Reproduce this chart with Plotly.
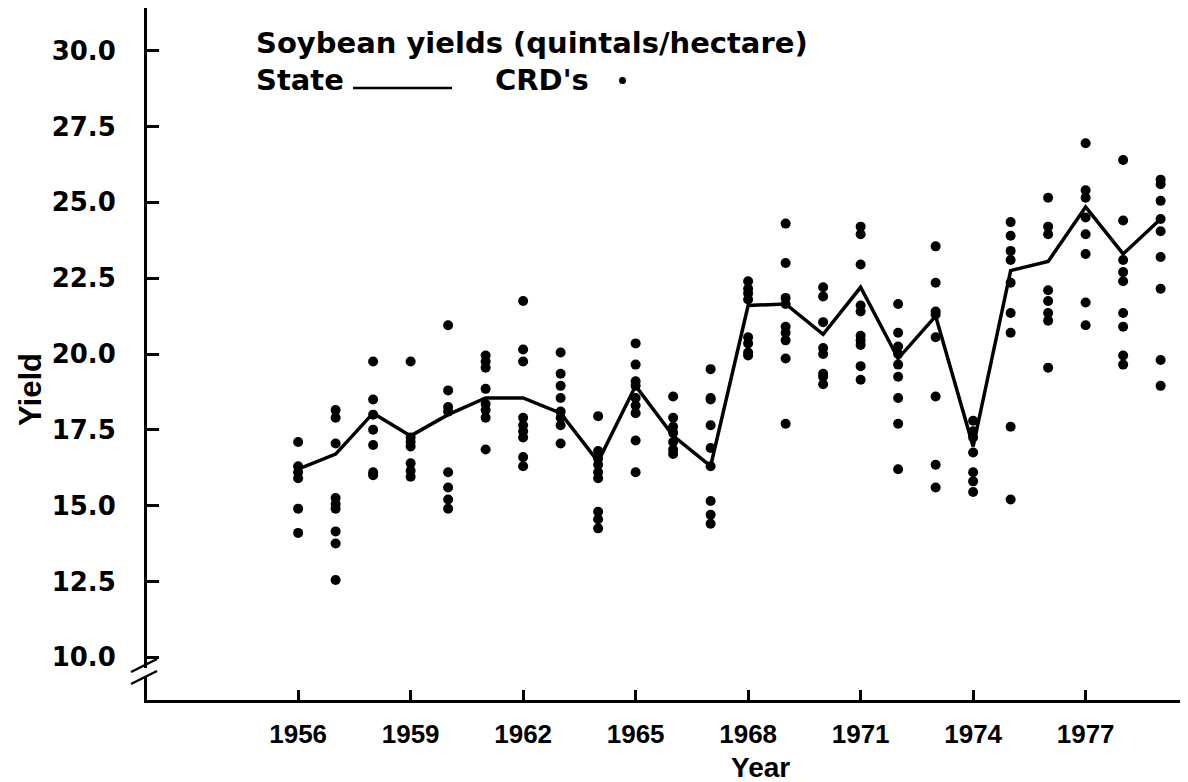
import plotly.graph_objects as go

# ---------------- data ----------------
years = list(range(1956, 1980))

state_yield = [16.2, 16.7, 18.05, 17.3, 18.0, 18.55, 18.55, 18.05, 16.45, 18.95,
               17.3, 16.3, 21.6, 21.65, 20.65, 22.2, 19.85, 21.25, 16.95, 22.75,
               23.05, 24.85, 23.3, 24.45]

crd_yields = [
    [17.1, 16.3, 16.1, 15.9, 14.9, 14.1],                               # 1956
    [18.15, 17.9, 17.05, 15.25, 15.05, 14.9, 14.15, 13.75, 12.55],     # 1957
    [19.75, 18.5, 18.0, 17.5, 17.0, 16.1, 16.0],                        # 1958
    [19.75, 17.25, 17.1, 16.95, 16.4, 16.15, 15.95],                    # 1959
    [20.95, 18.8, 18.25, 18.1, 16.1, 15.6, 15.2, 14.9],                 # 1960
    [19.95, 19.75, 19.55, 18.85, 18.35, 18.15, 17.9, 16.85],            # 1961
    [21.75, 20.15, 19.75, 17.9, 17.65, 17.45, 17.25, 16.6, 16.3],       # 1962
    [20.05, 19.35, 18.95, 18.55, 18.1, 17.9, 17.65, 17.05],             # 1963
    [17.95, 16.8, 16.55, 16.35, 16.1, 15.9, 14.8, 14.55, 14.25],        # 1964
    [20.35, 19.65, 19.1, 18.95, 18.55, 18.3, 18.05, 17.15, 16.1],       # 1965
    [18.6, 17.9, 17.6, 17.4, 17.1, 16.85, 16.7],                        # 1966
    [19.5, 18.55, 18.5, 17.65, 16.9, 16.3, 15.15, 14.7, 14.4],          # 1967
    [22.4, 22.15, 22.0, 21.8, 20.55, 20.35, 20.05, 19.95],              # 1968
    [24.3, 23.0, 21.85, 21.65, 20.9, 20.7, 20.45, 19.85, 17.7],         # 1969
    [22.2, 21.9, 21.05, 20.2, 20.0, 19.35, 19.25, 19.0],                # 1970
    [24.2, 23.95, 22.95, 21.6, 21.4, 20.6, 20.45, 20.3, 19.6, 19.15],   # 1971
    [21.65, 20.7, 20.25, 20.0, 19.65, 19.25, 18.55, 17.7, 16.2],        # 1972
    [23.55, 22.35, 21.4, 21.3, 20.55, 18.6, 16.35, 15.6],               # 1973
    [17.8, 17.45, 17.25, 16.75, 16.1, 15.8, 15.45],                     # 1974
    [24.35, 23.9, 23.4, 23.1, 22.35, 21.35, 20.7, 17.6, 15.2],          # 1975
    [25.15, 24.2, 23.95, 22.1, 21.75, 21.35, 21.1, 19.55],              # 1976
    [26.95, 25.4, 25.15, 24.5, 23.95, 23.3, 21.7, 20.95],               # 1977
    [26.4, 24.4, 23.1, 22.7, 22.4, 21.35, 20.9, 19.95, 19.65],          # 1978
    [25.75, 25.6, 25.05, 24.45, 24.05, 23.2, 22.15, 19.8, 18.95],       # 1979
]

tick_years = [1956, 1959, 1962, 1965, 1968, 1971, 1974, 1977]
y_ticks = [10.0, 12.5, 15.0, 17.5, 20.0, 22.5, 25.0, 27.5, 30.0]

title_text = "Soybean yields (quintals/hectare)"
x_title = "Year"
y_title = "Yield"

# ---------------- figure ----------------
crd_x = [yr for yr, vals in zip(years, crd_yields) for _ in vals]
crd_y = [v for vals in crd_yields for v in vals]

OFF = 8  # browser default body margin
W, H = 1188 - OFF, 782 - OFF
L, R, T, B = 147 - OFF, 0, 0, 82
PW, PH = W - L - R, H - T - B


def px(x):
    """screen pixel x -> paper coordinate"""
    return (x - OFF - L) / PW


def py(y):
    """screen pixel y -> paper coordinate"""
    return (H - B - (y - OFF)) / PH


BOLD = "DejaVu Sans"
COND = "Liberation Sans Narrow, Liberation Sans, Arial, sans-serif"

fig = go.Figure()
fig.add_trace(go.Scatter(x=crd_x, y=crd_y, mode="markers",
                         marker=dict(color="black", size=10, line=dict(width=0)),
                         name="CRD's", showlegend=False))
fig.add_trace(go.Scatter(x=years, y=state_yield, mode="lines",
                         line=dict(color="black", width=3.5),
                         name="State", showlegend=False))

fig.update_layout(
    width=W, height=H,
    margin=dict(l=L, r=R, t=T, b=B, pad=0, autoexpand=False),
    paper_bgcolor="white", plot_bgcolor="white",
    showlegend=False,
)

fig.update_xaxes(
    range=[1951.97, 1979.73],
    tickmode="array", tickvals=tick_years, ticktext=[str(t) for t in tick_years],
    ticks="inside", ticklen=10, tickwidth=3, tickcolor="black",
    showline=True, linecolor="black", linewidth=3,
    showgrid=False, zeroline=False,
    tickfont=dict(family=COND, size=26, color="black", weight="bold"),
    ticklabelstandoff=9,
)
fig.update_yaxes(
    range=[8.59, 31.41],
    tickmode="array", tickvals=y_ticks, ticktext=[f"{v:.1f}" for v in y_ticks],
    ticks="inside", ticklen=12, tickwidth=3, tickcolor="black",
    showline=True, linecolor="black", linewidth=3,
    showgrid=False, zeroline=False,
    tickfont=dict(family=BOLD, size=26, color="black", weight="bold"),
    ticklabelstandoff=23,
)

annotations = [
    dict(text=title_text, x=px(254), y=py(43), xanchor="left", yanchor="middle",
         font=dict(family=BOLD, size=29, color="black", weight="bold")),
    dict(text="State", x=px(254), y=py(80), xanchor="left", yanchor="middle",
         font=dict(family=BOLD, size=29, color="black", weight="bold")),
    dict(text="CRD's", x=px(493), y=py(80), xanchor="left", yanchor="middle",
         font=dict(family=BOLD, size=29, color="black", weight="bold")),
    dict(text=x_title, x=px(760), y=py(767), xanchor="center", yanchor="middle",
         borderpad=0,
         font=dict(family=COND, size=28, color="black", weight="bold")),
    dict(text=y_title, x=px(30), y=py(390), xanchor="center", yanchor="middle",
         textangle=-90,
         font=dict(family=COND, size=31, color="black", weight="bold")),
]
for a in annotations:
    a.update(xref="paper", yref="paper", showarrow=False)
fig.update_layout(annotations=annotations)

shapes = [
    # legend sample line
    dict(type="line", xref="paper", yref="paper", x0=px(353), x1=px(452),
         y0=py(88), y1=py(88), line=dict(color="black", width=2.5)),
    # legend dot
    dict(type="circle", xref="paper", yref="paper", x0=px(619), x1=px(626),
         y0=py(77), y1=py(84), fillcolor="black", line=dict(width=0)),
    # axis break: white gap
    dict(type="rect", xref="paper", yref="paper", x0=px(143), x1=px(151),
         y0=py(676), y1=py(668), fillcolor="white", line=dict(width=0), layer="above"),
    # axis break slashes
    dict(type="line", xref="paper", yref="paper", x0=px(131), x1=px(157),
         y0=py(672), y1=py(659), line=dict(color="black", width=2.5), layer="above"),
    dict(type="line", xref="paper", yref="paper", x0=px(131), x1=px(157),
         y0=py(684), y1=py(671), line=dict(color="black", width=2.5), layer="above"),
]
fig.update_layout(shapes=shapes)

fig.write_html("out.html")
